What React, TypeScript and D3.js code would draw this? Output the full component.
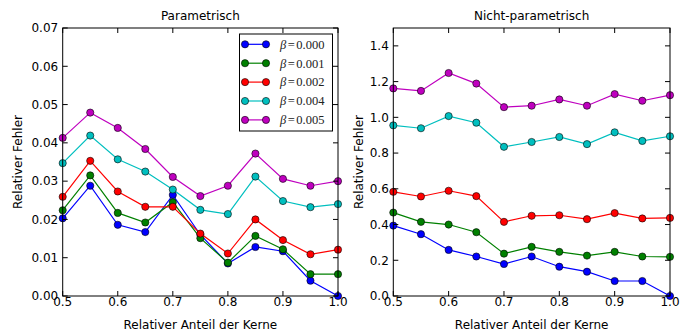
import React from "react";
import * as d3 from "d3";

const xValues = [0.5, 0.55, 0.6, 0.65, 0.7, 0.75, 0.8, 0.85, 0.9, 0.95, 1.0];
const betaLabels = ["0.000", "0.001", "0.002", "0.004", "0.005"];
const seriesColors = ["#0000ff", "#008000", "#ff0000", "#00bfbf", "#bf00bf"];

const paramB000 = [0.0203, 0.0288, 0.0186, 0.0167, 0.0264, 0.016, 0.0085, 0.0128, 0.0117, 0.004, 0.0];
const paramB001 = [0.0224, 0.0315, 0.0217, 0.0192, 0.0245, 0.0151, 0.0087, 0.0157, 0.0122, 0.0057, 0.0057];
const paramB002 = [0.0259, 0.0353, 0.0273, 0.0233, 0.0233, 0.0163, 0.0111, 0.02, 0.0146, 0.0109, 0.0121];
const paramB004 = [0.0347, 0.0419, 0.0357, 0.0325, 0.0278, 0.0225, 0.0214, 0.0312, 0.0248, 0.0232, 0.024];
const paramB005 = [0.0413, 0.0479, 0.0439, 0.0384, 0.0311, 0.0261, 0.0288, 0.0372, 0.0306, 0.0288, 0.03];

const nonparamB000 = [0.394, 0.346, 0.258, 0.221, 0.179, 0.221, 0.164, 0.136, 0.084, 0.084, 0.0];
const nonparamB001 = [0.467, 0.415, 0.4, 0.357, 0.237, 0.275, 0.247, 0.226, 0.247, 0.221, 0.219];
const nonparamB002 = [0.583, 0.557, 0.589, 0.559, 0.415, 0.449, 0.452, 0.43, 0.464, 0.434, 0.437];
const nonparamB004 = [0.955, 0.939, 1.007, 0.97, 0.835, 0.862, 0.89, 0.85, 0.916, 0.868, 0.894];
const nonparamB005 = [1.162, 1.148, 1.248, 1.189, 1.057, 1.065, 1.1, 1.065, 1.13, 1.093, 1.124];

const xTicks = [0.5, 0.6, 0.7, 0.8, 0.9, 1.0];
const paramYTicks = [0, 0.01, 0.02, 0.03, 0.04, 0.05, 0.06, 0.07];
const nonparamYTicks = [0, 0.2, 0.4, 0.6, 0.8, 1.0, 1.2, 1.4];

const FONT = "'DejaVu Sans', sans-serif";

type PanelProps = {
  left: number;
  right: number;
  top: number;
  bottom: number;
  yMax: number;
  yTicks: number[];
  yFmt: (v: number) => string;
  title: string;
  series: number[][];
  yLabelX: number;
  legend: boolean;
};

function Panel(p: PanelProps) {
  const x = d3.scaleLinear().domain([0.5, 1.0]).range([p.left, p.right]);
  const y = d3.scaleLinear().domain([0, p.yMax]).range([p.bottom, p.top]);
  const line = d3
    .line<number>()
    .x((_, i) => x(xValues[i]))
    .y((d) => y(d));
  const tl = 5;
  const cy = (p.top + p.bottom) / 2;
  const cx = (p.left + p.right) / 2;
  const lg = { x: 239.5, y: 34, w: 93, h: 97 };
  return (
    <g>
      <defs>
        <clipPath id={`clip-${p.title}`}>
          <rect x={p.left - 5} y={p.top - 5} width={p.right - p.left + 10} height={p.bottom - p.top + 10} />
        </clipPath>
      </defs>
      {p.series.map((s, k) => (
        <g key={k}>
          <path d={line(s) || ""} fill="none" stroke={seriesColors[k]} strokeWidth={1.2} />
          {s.map((v, i) => (
            <circle key={i} cx={x(xValues[i])} cy={y(v)} r={3.6} fill={seriesColors[k]} stroke="#000" strokeWidth={0.6} />
          ))}
        </g>
      ))}
      <rect x={p.left} y={p.top} width={p.right - p.left} height={p.bottom - p.top} fill="none" stroke="#000" strokeWidth={1} />
      {xTicks.map((t) => (
        <g key={`x${t}`}>
          <line x1={x(t)} x2={x(t)} y1={p.bottom} y2={p.bottom - tl} stroke="#000" />
          <line x1={x(t)} x2={x(t)} y1={p.top} y2={p.top + tl} stroke="#000" />
          <text x={x(t)} y={306} textAnchor="middle" fontSize={12} fontFamily={FONT} fill="#000">
            {t.toFixed(1)}
          </text>
        </g>
      ))}
      {p.yTicks.map((t) => (
        <g key={`y${t}`}>
          <line x1={p.left} x2={p.left + tl} y1={y(t)} y2={y(t)} stroke="#000" />
          <line x1={p.right} x2={p.right - tl} y1={y(t)} y2={y(t)} stroke="#000" />
          <text x={p.left - 4.5} y={y(t) + 4.3} textAnchor="end" fontSize={12} fontFamily={FONT} fill="#000">
            {p.yFmt(t)}
          </text>
        </g>
      ))}
      <text x={cx} y={20} textAnchor="middle" fontSize={12} fontFamily={FONT} fill="#000">
        {p.title}
      </text>
      <text x={cx} y={328.5} textAnchor="middle" fontSize={12} fontFamily={FONT} fill="#000">
        Relativer Anteil der Kerne
      </text>
      <text
        transform={`translate(${p.yLabelX},${cy}) rotate(-90)`}
        textAnchor="middle"
        fontSize={12}
        fontFamily={FONT}
        fill="#000"
      >
        Relativer Fehler
      </text>
      {p.legend && (
        <g>
          <rect x={lg.x} y={lg.y} width={lg.w} height={lg.h} fill="#fff" stroke="#000" strokeWidth={1} />
          {betaLabels.map((b, k) => {
            const ry = 44.3 + k * 18.9;
            return (
              <g key={b}>
                <line x1={245} x2={266} y1={ry} y2={ry} stroke={seriesColors[k]} strokeWidth={1.2} />
                <circle cx={245} cy={ry} r={3.6} fill={seriesColors[k]} stroke="#000" strokeWidth={0.6} />
                <circle cx={266} cy={ry} r={3.6} fill={seriesColors[k]} stroke="#000" strokeWidth={0.6} />
                <text x={280} y={ry + 4.3} fontSize={12.5} fontFamily="'Liberation Serif', 'DejaVu Serif', serif" fill="#222">
                  <tspan fontStyle="italic">β</tspan>
                  <tspan dx={1.5}>=</tspan>
                  <tspan dx={1.5}>{b}</tspan>
                </text>
              </g>
            );
          })}
        </g>
      )}
    </g>
  );
}

export default function App() {
  return (
    <svg
      width={680}
      height={332}
      style={{ position: "absolute", left: 0, top: 0, background: "#fff" }}
    >
      <rect x={0} y={0} width={680} height={332} fill="#fff" />
      <Panel
        left={62.7}
        right={338}
        top={28}
        bottom={296}
        yMax={0.07}
        yTicks={paramYTicks}
        yFmt={(v) => v.toFixed(2)}
        title="Parametrisch"
        series={[paramB000, paramB001, paramB002, paramB004, paramB005]}
        yLabelX={22}
        legend={true}
      />
      <Panel
        left={393.3}
        right={670}
        top={28}
        bottom={296}
        yMax={1.5}
        yTicks={nonparamYTicks}
        yFmt={(v) => v.toFixed(1)}
        title="Nicht-parametrisch"
        series={[nonparamB000, nonparamB001, nonparamB002, nonparamB004, nonparamB005]}
        yLabelX={363}
        legend={false}
      />
    </svg>
  );
}
